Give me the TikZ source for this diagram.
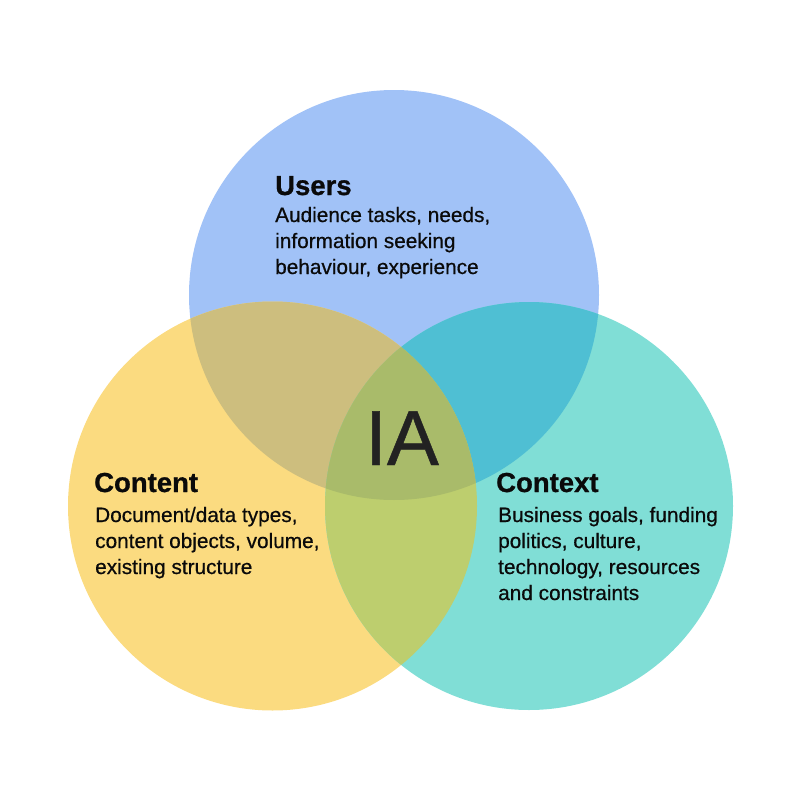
\documentclass[tikz,border=0pt]{standalone}
\usepackage{fontspec}
\setmainfont{Liberation Sans}
\newfontfamily\medfont[FakeBold=0.6]{Liberation Sans}
\newfontfamily\heavyfont[FakeBold=0.8]{Liberation Sans Bold}
\definecolor{cBlue}{HTML}{A1C2F7}
\definecolor{cYel}{HTML}{FBDB80}
\definecolor{cTeal}{HTML}{80DED6}
\definecolor{cBY}{HTML}{CDBE7E}
\definecolor{cBT}{HTML}{4FBFD3}
\definecolor{cYT}{HTML}{BDCE6E}
\definecolor{cAll}{HTML}{A9BB6A}
\definecolor{cInk}{HTML}{0A0A0A}
\definecolor{cIA}{HTML}{222222}
\tikzset{
  title/.style={anchor=base west,inner sep=0pt,text=cInk,font=\heavyfont\fontsize{27.5}{32}\selectfont},
  body/.style={anchor=base west,inner sep=0pt,text=cInk,font=\medfont\fontsize{20.8}{26}\selectfont},
}
\begin{document}
\begin{tikzpicture}[x=1pt,y=-1pt]
\useasboundingbox (0,0) rectangle (800,800);
\def\Uc{(394,295) circle[radius=205pt]}
\def\Cc{(272.5,506) circle[radius=204.5pt]}
\def\Xc{(529,506) circle[radius=204pt]}
\fill[cBlue] \Uc;
\fill[cYel] \Cc;
\fill[cTeal] \Xc;
\begin{scope}
  \clip \Uc;
  \fill[cBY] \Cc;
  \fill[cBT] \Xc;
\end{scope}
\begin{scope}
  \clip \Cc;
  \fill[cYT] \Xc;
\end{scope}
\begin{scope}
  \clip \Uc;
  \clip \Cc;
  \fill[cAll] \Xc;
\end{scope}
\node[anchor=base west,inner sep=0pt,text=cIA,font=\medfont\fontsize{78}{90}\selectfont] (ia) at (365,465) {IA};
\node[title] (users) at (275,195) {Users};
\node[body] (u1) at (275,222) {Audience tasks, needs,};
\node[body] (u2) at (275,248) {information seeking};
\node[body] (u3) at (275,274) {behaviour, experience};
\node[title] (content) at (94,492) {Content};
\node[body] (c1) at (95,522) {Document/data types,};
\node[body] (c2) at (95,548) {content objects, volume,};
\node[body] (c3) at (95,574) {existing structure};
\node[title] (context) at (496,492) {Context};
\node[body] (x1) at (498,522) {Business goals, funding};
\node[body] (x2) at (498,548) {politics, culture,};
\node[body] (x3) at (498,574) {technology, resources};
\node[body] (x4) at (498,600) {and constraints};
\end{tikzpicture}
\end{document}
